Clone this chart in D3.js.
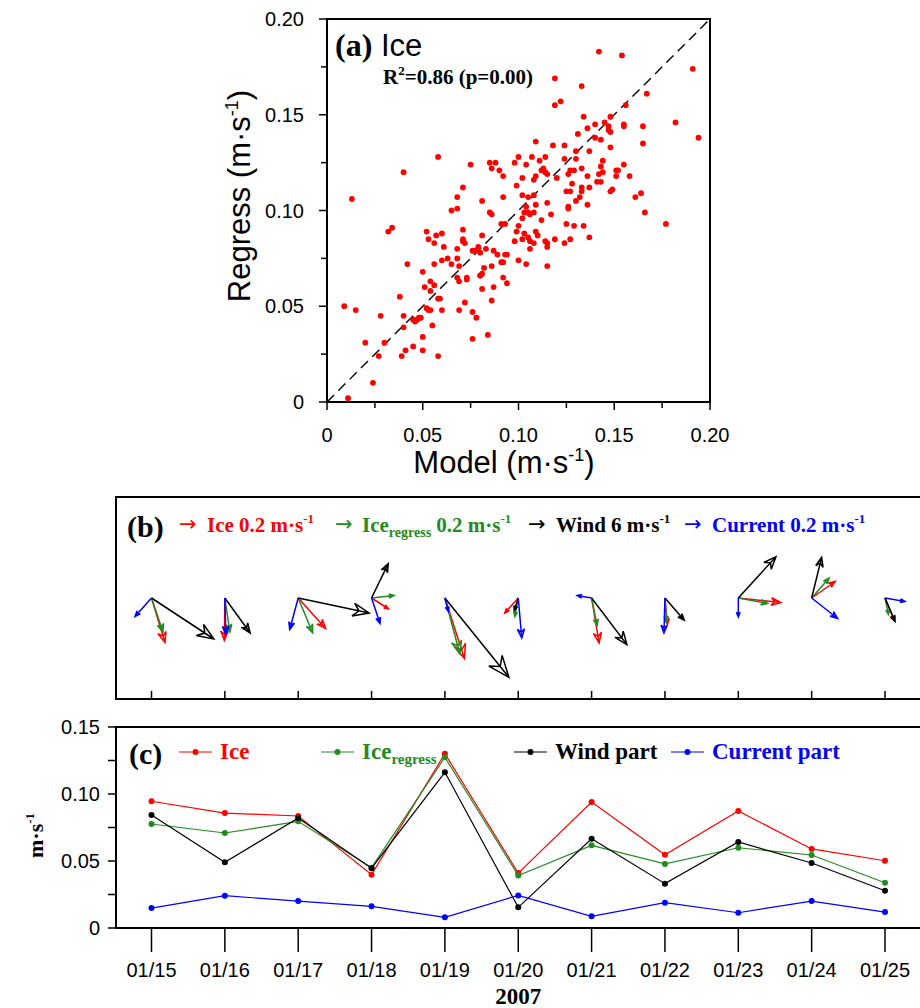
<!DOCTYPE html>
<html><head><meta charset="utf-8">
<script src="https://cdn.jsdelivr.net/npm/d3@7"></script>
<style>body{margin:0;background:#fff}</style>
</head><body><svg id="fig" width="920" height="1008"></svg>
<script>
const SANS = "'Liberation Sans', Arial, Helvetica, sans-serif";
const SERIF = "'Liberation Serif', 'Times New Roman', serif";
const ARROWFONT = "'DejaVu Sans', sans-serif";

// (a) daily ice speed: model vs. regression estimate (m/s)
const icePoints = [
[.058,.128],[.040,.120],[.075,.124],[.085,.125],[.088,.125],[.086,.122],[.090,.121],[.092,.118],[.098,.125],[.100,.128],
[.071,.112],[.099,.113],[.013,.106],[.068,.107],[.081,.105],[.092,.107],[.068,.101],
[.142,.183],[.154,.181],[.191,.174],[.119,.169],[.133,.165],[.122,.157],[.119,.155],[.167,.161],[.156,.155],
[.134,.149],[.148,.149],[.140,.145],[.145,.146],[.147,.144],[.155,.145],[.155,.144],[.165,.144],[.182,.146],[.194,.138],
[.136,.143],[.131,.140],[.140,.138],[.143,.137],[.148,.141],[.147,.142],[.109,.136],[.118,.134],[.124,.134],[.148,.133],
[.165,.135],[.130,.131],[.137,.131],[.107,.128],[.114,.128],[.104,.124],[.111,.126],[.124,.127],[.130,.127],[.144,.126],
[.155,.124],[.143,.123],[.113,.122],[.112,.121],[.114,.120],[.127,.121],[.129,.121],[.126,.119],[.133,.122],[.144,.120],
[.152,.121],[.151,.121],[.109,.118],[.108,.116],[.115,.119],[.120,.117],[.136,.118],[.142,.119],[.158,.118],[.151,.118],
[.102,.117],[.141,.115],[.143,.115],[.128,.114],[.133,.112],[.137,.112],[.149,.111],[.148,.110],[.125,.110],[.127,.110],
[.133,.110],[.132,.107],[.164,.109],[.161,.107],[.102,.108],[.105,.107],[.108,.108],[.115,.104],[.109,.103],[.130,.105],
[.136,.103],[.126,.101],[.126,.102],[.104,.102],
[.065,.100],[.085,.099],[.086,.098],[.032,.089],[.034,.091],[.052,.089],[.057,.087],[.060,.088],[.053,.085],[.056,.083],
[.071,.090],[.071,.085],[.071,.084],[.072,.083],[.081,.087],[.061,.081],[.068,.080],[.079,.081],[.076,.079],[.077,.079],
[.080,.078],[.083,.080],[.087,.079],[.089,.077],[.093,.077],[.094,.077],[.091,.093],[.093,.093],[.100,.092],[.099,.089],
[.098,.084],[.063,.075],[.060,.074],[.068,.075],[.042,.072],[.056,.072],[.065,.072],[.069,.071],[.082,.070],[.086,.071],
[.091,.073],[.092,.073],[.100,.074],[.050,.068],[.068,.065],[.069,.063],[.073,.065],[.073,.064],[.081,.067],[.080,.066],
[.080,.066],[.092,.065],[.054,.063],[.051,.060],[.056,.061],[.054,.058],[.081,.059],[.087,.060],[.094,.062],[.038,.055],
[.059,.054],[.058,.054],[.072,.052],[.086,.053],[.009,.050],[.015,.048],[.052,.049],[.053,.048],[.054,.048],[.060,.048],
[.069,.048],[.076,.047],[.078,.044],[.028,.045],[.040,.045],[.045,.043],[.046,.042],[.048,.044],[.049,.044],[.047,.043],
[.040,.039],[.055,.040],[.050,.034],[.076,.033],[.084,.035],[.020,.031],[.030,.031],[.045,.029],[.050,.027],[.041,.027],
[.027,.024],[.039,.024],[.058,.024],[.024,.010],[.011,.002],
[.166,.099],[.177,.093],[.117,.098],[.103,.099],[.104,.099],[.106,.098],[.108,.099],[.105,.099],[.102,.096],[.112,.095],
[.125,.093],[.129,.092],[.134,.092],[.109,.089],[.110,.087],[.103,.088],[.102,.085],[.105,.086],[.106,.084],[.108,.083],
[.114,.084],[.115,.083],[.115,.081],[.119,.085],[.124,.083],[.127,.085],[.137,.086],[.106,.080],[.104,.072],[.115,.071]
];
const scatterTicks = [0, 0.05, 0.10, 0.15, 0.20];
const scatterTickLabels = ["0", "0.05", "0.10", "0.15", "0.20"];

// (b)/(c) daily series
const dates = ["01/15","01/16","01/17","01/18","01/19","01/20","01/21","01/22","01/23","01/24","01/25"];
const iceSpeed     = [0.0946,0.0858,0.0836,0.0398,0.1301,0.0410,0.0940,0.0547,0.0873,0.0590,0.0502];
const regressSpeed = [0.0776,0.0709,0.0796,0.0450,0.1274,0.0392,0.0617,0.0478,0.0599,0.0545,0.0338];
const windPart     = [0.0843,0.0490,0.0821,0.0446,0.1162,0.0154,0.0666,0.0331,0.0642,0.0485,0.0278];
const currentPart  = [0.0149,0.0241,0.0201,0.0162,0.0080,0.0243,0.0087,0.0189,0.0114,0.0201,0.0119];
const speedTicks = [0, 0.05, 0.10, 0.15];
const speedTickLabels = ["0", "0.05", "0.10", "0.15"];

// vector components (u east, v north)
const iceU = [0.027,-0.001,0.055,0.034,0.039,-0.027,0.015,0.005,0.085,0.047,0.019];
const iceV = [-0.089,-0.085,-0.061,-0.022,-0.121,-0.030,-0.090,-0.053,-0.009,0.033,-0.046];
const regU = [0.023,0.010,0.029,0.045,0.030,-0.007,0.011,0.003,0.059,0.035,0.007];
const regV = [-0.068,-0.068,-0.070,0.005,-0.112,-0.037,-0.055,-0.047,-0.011,0.040,-0.033];
const windU = [3.74,1.52,4.26,1.00,3.84,-0.24,2.12,1.16,2.26,0.60,0.60];
const windV = [-2.46,-2.10,-0.90,2.06,-4.76,-0.76,-2.80,-1.34,2.48,2.44,-1.40];
const curU = [-0.033,0.002,-0.017,0.017,0.007,0.007,-0.029,-0.002,0.000,0.052,0.040];
const curV = [-0.037,-0.073,-0.063,-0.051,-0.027,-0.080,0.005,-0.070,-0.038,-0.041,-0.007];

const RED = "#ff0000", GREEN = "#228b22", BLACK = "#000000", BLUE = "#0000ff";

const svg = d3.select("#fig");

/* ---------------- (a) scatter ---------------- */
const ax = d3.scaleLinear().domain([0, 0.2]).range([327, 710]);
const ay = d3.scaleLinear().domain([0, 0.2]).range([402, 19]);
const ga = svg.append("g");

const minorA = d3.range(0, 0.2001, 0.025);
ga.selectAll(".lt").data(minorA).join("line")
  .attr("x1", ax(0)).attr("x2", d => ax(0) - (Math.round(d*1000) % 50 === 0 ? 8 : 6))
  .attr("y1", d => ay(d)).attr("y2", d => ay(d)).attr("stroke", "#000").attr("stroke-width", 1.5);
ga.selectAll(".bt").data(minorA).join("line")
  .attr("y1", ay(0)).attr("y2", d => ay(0) + (Math.round(d*1000) % 50 === 0 ? 8 : 6))
  .attr("x1", d => ax(d)).attr("x2", d => ax(d)).attr("stroke", "#000").attr("stroke-width", 1.5);
ga.selectAll(".ll").data(scatterTicks).join("text")
  .attr("x", ax(0) - 23).attr("y", d => ay(d) + 7).attr("text-anchor", "end")
  .attr("font-family", SANS).attr("font-size", 20).text((d, i) => scatterTickLabels[i]);
ga.selectAll(".bl").data(scatterTicks).join("text")
  .attr("x", d => ax(d)).attr("y", ay(0) + 40).attr("text-anchor", "middle")
  .attr("font-family", SANS).attr("font-size", 20).text((d, i) => scatterTickLabels[i]);

// 1:1 reference line
ga.append("line").attr("x1", ax(0)).attr("y1", ay(0)).attr("x2", ax(0.2)).attr("y2", ay(0.2))
  .attr("stroke", "#000").attr("stroke-width", 1.4).attr("stroke-dasharray", "10,6");

ga.selectAll("circle").data(icePoints).join("circle")
  .attr("cx", d => ax(d[0])).attr("cy", d => ay(d[1])).attr("r", 2.9).attr("fill", RED);

ga.append("rect").attr("x", ax(0)).attr("y", ay(0.2)).attr("width", ax(0.2) - ax(0))
  .attr("height", ay(0) - ay(0.2)).attr("fill", "none").attr("stroke", "#000").attr("stroke-width", 2);

const ytA = ga.append("text").attr("transform", "translate(250,196) rotate(-90)")
  .attr("text-anchor", "middle").attr("font-family", SANS).attr("font-size", 31);
ytA.append("tspan").text("Regress (m·s");
ytA.append("tspan").attr("font-size", 18).attr("dy", -12).text("-1");
ytA.append("tspan").attr("dy", 12).text(")");

const xtA = ga.append("text").attr("x", 504).attr("y", 473)
  .attr("text-anchor", "middle").attr("font-family", SANS).attr("font-size", 31);
xtA.append("tspan").text("Model (m·s");
xtA.append("tspan").attr("font-size", 18).attr("dy", -12).text("-1");
xtA.append("tspan").attr("dy", 12).text(")");

ga.append("text").attr("x", 335).attr("y", 56).attr("font-family", SERIF).attr("font-weight", "bold")
  .attr("font-size", 32).text("(a)");
ga.append("text").attr("x", 381).attr("y", 56).attr("font-family", SANS).attr("font-size", 31).text("Ice");
const r2 = ga.append("text").attr("x", 383).attr("y", 84).attr("font-family", SERIF)
  .attr("font-weight", "bold").attr("font-size", 21);
r2.append("tspan").text("R");
r2.append("tspan").attr("font-size", 13).attr("dy", -9).text("2");
r2.append("tspan").attr("dy", 9).text("=0.86 (p=0.00)");

/* ---------------- shared date scale ---------------- */
const xd = d3.scalePoint().domain(dates).range([151.5, 885]);

/* ---------------- (b) vectors ---------------- */
const gb = svg.append("g");
const bTop = 497, bBot = 699, yOrigin = 598;
gb.append("rect").attr("x", 116).attr("y", bTop).attr("width", 830).attr("height", bBot - bTop)
  .attr("fill", "none").attr("stroke", "#000").attr("stroke-width", 2);
gb.selectAll(".bt").data(dates).join("line")
  .attr("x1", d => xd(d)).attr("x2", d => xd(d)).attr("y1", bBot).attr("y2", bBot - 8)
  .attr("stroke", "#000").attr("stroke-width", 1.5);

const iceLen = d3.scaleLinear().domain([0, 0.2]).range([0, 100]);
const windLen = d3.scaleLinear().domain([0, 6]).range([0, 100]);

function arrowPath(x0, y0, dx, dy) {
  const len = Math.hypot(dx, dy);
  const ang = Math.atan2(dy, dx);
  const h = Math.max(5, Math.min(23, 0.24 * len));
  const a = 0.38;
  const tx = x0 + dx, ty = y0 + dy;
  const lx = tx - h * Math.cos(ang - a), ly = ty - h * Math.sin(ang - a);
  const rx = tx - h * Math.cos(ang + a), ry = ty - h * Math.sin(ang + a);
  const nx = tx - 0.6 * h * Math.cos(ang), ny = ty - 0.6 * h * Math.sin(ang);
  return `M${x0},${y0}L${tx},${ty}M${lx},${ly}L${tx},${ty}L${rx},${ry}L${nx},${ny}Z`;
}
const vecSets = [
  {u: iceU, v: iceV, color: RED, s: iceLen},
  {u: regU, v: regV, color: GREEN, s: iceLen},
  {u: windU, v: windV, color: BLACK, s: windLen},
  {u: curU, v: curV, color: BLUE, s: iceLen}
];
vecSets.forEach(set => {
  gb.append("g").selectAll("path").data(dates).join("path")
    .attr("d", (d, i) => {
      const sx = set.u[i] >= 0 ? 1 : -1, sy = set.v[i] >= 0 ? 1 : -1;
      return arrowPath(xd(d), yOrigin, sx * set.s(Math.abs(set.u[i])), -sy * set.s(Math.abs(set.v[i])));
    })
    .attr("fill", "none").attr("stroke", set.color).attr("stroke-width", 1.5)
    .attr("stroke-linejoin", "miter");
});

gb.append("text").attr("x", 127).attr("y", 537).attr("font-family", SERIF).attr("font-weight", "bold")
  .attr("font-size", 30).text("(b)");
function vecLegend(xArrow, xText, color, parts) {
  gb.append("text").attr("x", xArrow).attr("y", 531).attr("font-family", ARROWFONT)
    .attr("font-size", 21).attr("fill", color).text("→");
  const t = gb.append("text").attr("x", xText).attr("y", 532).attr("font-family", SERIF)
    .attr("font-size", 21).attr("font-weight", "bold").attr("fill", color);
  parts.forEach(p => {
    const ts = t.append("tspan").text(p.t);
    if (p.size) ts.attr("font-size", p.size);
    if (p.dy) ts.attr("dy", p.dy);
  });
}
vecLegend(179, 207, RED, [{t: "Ice 0.2 m·s"}, {t: "-1", size: 13, dy: -9}]);
vecLegend(335, 362, GREEN, [{t: "Ice"}, {t: "regress", size: 14, dy: 5}, {t: " 0.2 m·s", dy: -5}, {t: "-1", size: 13, dy: -9}]);
vecLegend(528, 556, BLACK, [{t: "Wind 6 m·s"}, {t: "-1", size: 13, dy: -9}]);
vecLegend(684, 712, BLUE, [{t: "Current 0.2 m·s"}, {t: "-1", size: 13, dy: -9}]);

/* ---------------- (c) speed series ---------------- */
const gc = svg.append("g");
const cy = d3.scaleLinear().domain([0, 0.15]).range([928, 727]);
gc.selectAll(".lt").data(d3.range(0, 0.1501, 0.025)).join("line")
  .attr("x1", 116).attr("x2", 108).attr("y1", d => cy(d)).attr("y2", d => cy(d))
  .attr("stroke", "#000").attr("stroke-width", 1.5);
gc.selectAll(".ll").data(speedTicks).join("text")
  .attr("x", 100).attr("y", d => cy(d) + 7).attr("text-anchor", "end")
  .attr("font-family", SANS).attr("font-size", 20).text((d, i) => speedTickLabels[i]);
gc.selectAll(".bt").data(dates).join("line")
  .attr("x1", d => xd(d)).attr("x2", d => xd(d)).attr("y1", 928).attr("y2", 952)
  .attr("stroke", "#000").attr("stroke-width", 1.5);
gc.selectAll(".bl").data(dates).join("text")
  .attr("x", d => xd(d)).attr("y", 977).attr("text-anchor", "middle")
  .attr("font-family", SANS).attr("font-size", 20).text(d => d);
gc.append("text").attr("x", xd("01/20")).attr("y", 1004).attr("text-anchor", "middle")
  .attr("font-family", SERIF).attr("font-weight", "bold").attr("font-size", 23).text("2007");
const ytC = gc.append("text").attr("transform", `translate(43,${(cy(0)+cy(0.15))/2 + 8}) rotate(-90)`)
  .attr("text-anchor", "middle").attr("font-family", SERIF).attr("font-weight", "bold").attr("font-size", 22);
ytC.append("tspan").text("m·s");
ytC.append("tspan").attr("font-size", 13).attr("dy", -9).text("-1");

const series = [
  {vals: iceSpeed, color: RED},
  {vals: regressSpeed, color: GREEN},
  {vals: windPart, color: BLACK},
  {vals: currentPart, color: BLUE}
];
const line = d3.line().x((d, i) => xd(dates[i])).y(d => cy(d));
series.forEach(s => {
  gc.append("path").datum(s.vals).attr("d", line).attr("fill", "none")
    .attr("stroke", s.color).attr("stroke-width", 1.2);
  gc.append("g").selectAll("circle").data(s.vals).join("circle")
    .attr("cx", (d, i) => xd(dates[i])).attr("cy", d => cy(d)).attr("r", 3).attr("fill", s.color);
});

gc.append("rect").attr("x", 116).attr("y", 727).attr("width", 830).attr("height", 201)
  .attr("fill", "none").attr("stroke", "#000").attr("stroke-width", 2);

gc.append("text").attr("x", 129).attr("y", 764).attr("font-family", SERIF).attr("font-weight", "bold")
  .attr("font-size", 30).text("(c)");
function lineLegend(x0, color, parts) {
  gc.append("line").attr("x1", x0).attr("x2", x0 + 33).attr("y1", 752).attr("y2", 752)
    .attr("stroke", color).attr("stroke-width", 1.2);
  gc.append("circle").attr("cx", x0 + 16.5).attr("cy", 752).attr("r", 3).attr("fill", color);
  const t = gc.append("text").attr("x", x0 + 41).attr("y", 759).attr("font-family", SERIF)
    .attr("font-weight", "bold").attr("font-size", 23).attr("fill", color);
  parts.forEach(p => {
    const ts = t.append("tspan").text(p.t);
    if (p.size) ts.attr("font-size", p.size);
    if (p.dy) ts.attr("dy", p.dy);
  });
}
lineLegend(179, RED, [{t: "Ice"}]);
lineLegend(321, GREEN, [{t: "Ice"}, {t: "regress", size: 15, dy: 5}]);
lineLegend(514, BLACK, [{t: "Wind part"}]);
lineLegend(671, BLUE, [{t: "Current part"}]);
</script>
</body></html>
